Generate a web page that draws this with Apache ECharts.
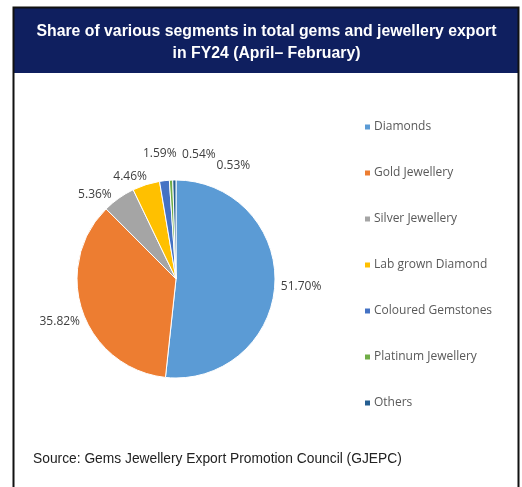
<!DOCTYPE html>
<html>
<head>
<meta charset="utf-8">
<script src="https://cdn.jsdelivr.net/npm/echarts@6/dist/echarts.min.js"></script>
<style>
  html, body { margin: 0; padding: 0; background: #ffffff; }
  #chart { width: 522px; height: 487px; }
</style>
</head>
<body>
<div id="chart"></div>
<script>
// Export segments and their share (%) of total gems & jewellery exports
const segments = ['Diamonds', 'Gold Jewellery', 'Silver Jewellery', 'Lab grown Diamond',
  'Coloured Gemstones', 'Platinum Jewellery', 'Others'];
const shares = [51.70, 35.82, 5.36, 4.46, 1.59, 0.54, 0.53];
const segmentColors = ['#5b9bd5', '#ed7d31', '#a5a5a5', '#ffc000', '#4472c4', '#70ad47', '#255e91'];

// small nudges so the crowded data labels sit clear of each other
const labelNudge = [[-1, 2], [4, 7], [-3, 2], [3, -1], [13, -20], [45, -19], [76, -7]];

const titleText = 'Share of various segments in total gems and jewellery export\nin FY24 (April\u2013 February)';
const sourceText = 'Source: Gems Jewellery Export Promotion Council (GJEPC)';

const chart = echarts.init(document.getElementById('chart'), null, { renderer: 'canvas' });

const pieData = segments.map((name, i) => ({
  name: name,
  value: shares[i],
  itemStyle: { color: segmentColors[i] }
}));

chart.setOption({
  backgroundColor: '#ffffff',
  animation: false,
  graphic: [
    // header band
    { type: 'rect', shape: { x: 14, y: 7, width: 505, height: 66 }, style: { fill: '#0f1f5f' }, z: 0 },
    // frame
    { type: 'polyline', shape: { points: [[13.5, 487], [13.5, 7.5], [518.5, 7.5], [518.5, 487]] },
      style: { stroke: '#111111', lineWidth: 2, fill: null }, z: 1 },
    // heading inside the band
    { type: 'text', z: 2,
      style: {
        text: titleText, x: 266.5, y: 21, align: 'center', verticalAlign: 'top',
        font: 'bold 15.8px "Liberation Sans", Arial, sans-serif', lineHeight: 22, fill: '#ffffff'
      } },
    { type: 'text', left: 33, top: 452,
      style: { text: sourceText, font: '13.8px "Liberation Sans", Arial, sans-serif', fill: '#222222' } }
  ],
  legend: {
    orient: 'vertical',
    left: 358,
    top: 116,
    itemGap: 34,
    itemWidth: 7,
    itemHeight: 7,
    icon: 'rect',
    data: segments,
    textStyle: {
      color: '#595959',
      fontFamily: '"Open Sans", "Noto Sans", sans-serif',
      fontSize: 12,
      padding: [0, 0, 0, -2]
    }
  },
  series: [{
    type: 'pie',
    center: [176, 279],
    radius: [0, 99],
    startAngle: 90,
    clockwise: true,
    avoidLabelOverlap: false,
    minShowLabelAngle: 0,
    data: pieData,
    itemStyle: { borderColor: '#ffffff', borderWidth: 1 },
    label: {
      show: true,
      position: 'outside',
      formatter: p => p.value.toFixed(2) + '%',
      color: '#404040',
      fontFamily: '"Open Sans", "Noto Sans", sans-serif',
      fontSize: 12,
      distanceToLabelLine: 0
    },
    labelLine: { show: false, length: 7, length2: 0 },
    labelLayout: p => ({
      dx: labelNudge[p.dataIndex][0],
      dy: labelNudge[p.dataIndex][1],
      hideOverlap: false
    }),
    emphasis: { disabled: true }
  }]
});
</script>
</body>
</html>
